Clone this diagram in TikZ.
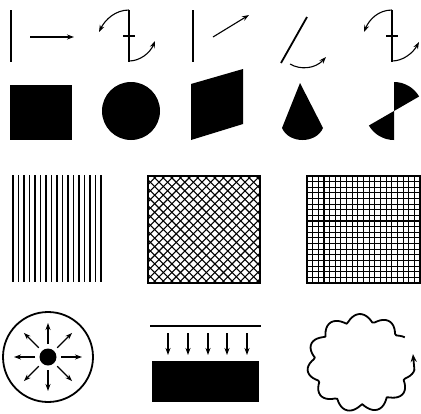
\documentclass[tikz,border=0pt]{standalone}
\usetikzlibrary{arrows.meta,calc}

\begin{document}
\begin{tikzpicture}[x=1pt, y=-1pt,
    bar/.style={line width=1.8pt},
    vec/.style={line width=1.1pt, -{Stealth[length=7pt, width=5pt]}},
    tick/.style={line width=1.1pt},
    frame/.style={line width=1.8pt},
    hatch/.style={line width=1.1pt},
  ]
  \useasboundingbox (0,0) rectangle (421,413);

  % row 1: bars, ticks and turning arrows
  \coordinate (b1) at (11,10);
  \coordinate (b2) at (129,10);
  \coordinate (b3) at (193,10);
  \coordinate (b5) at (392,10);
  \draw[bar] (b1) -- ++(0,52);
  \draw[vec] (30,37) -- (74,37);

  \draw[bar] (b2) -- ++(0,52);
  \draw[tick] (123,36) -- (135,36);
  \draw[vec] (b2) .. controls (115,10) and (105,20) .. (99,32);
  \draw[vec] (129,61) .. controls (140,61) and (150,53) .. (155,41);

  \draw[bar] (b3) -- ++(0,52);
  \draw[vec] (213,37) -- (249,15);

  \draw[bar] (281,63) -- (307,17);
  \draw[vec] (290,64) .. controls (300,70) and (315,69) .. (326,57);

  \draw[bar] (b5) -- ++(0,52);
  \draw[tick] (386,36) -- (398,36);
  \draw[vec] (b5) .. controls (378,10) and (369,20) .. (364,32);
  \draw[vec] (392,61) .. controls (403,61) and (413,53) .. (419,42);

  % row 2: solid shapes
  \fill (10,85) rectangle (72,140);
  \fill (131,111) circle[radius=29];
  \fill (191,84) -- (243,69) -- (243,124) -- (191,140) -- cycle;
  \fill (300,83) -- (282,128) .. controls (289,144) and (316,144) .. (323,128) -- cycle;
  \coordinate (fan) at (394,111);
  \fill (fan) -- ++(-90:29) arc[start angle=-90, end angle=-30, radius=29] -- cycle;
  \fill (fan) -- ++(90:29) arc[start angle=90, end angle=150, radius=29] -- cycle;

  % row 3: line set, cross hatch and grid
  \foreach \i in {0,...,16}
    \draw[line width=1.3pt] (13+\i*5.5,175) -- (13+\i*5.5,282);

  \begin{scope}
    \clip (148,176) rectangle (260,283);
    \foreach \i in {0,...,26} {
      \draw[hatch] (41+\i*8.6,176) -- ++(107,107);
      \draw[hatch] (148+\i*8.6,176) -- ++(-107,107);
    }
  \end{scope}
  \draw[frame] (148,176) rectangle (260,283);

  \foreach \i in {1,...,19}
    \draw[hatch] (307+\i*5.65,176) -- (307+\i*5.65,283);
  \foreach \j in {1,...,18}
    \draw[hatch] (307,176+\j*5.63) -- (420,176+\j*5.63);
  \draw[frame] (307,176) rectangle (420,283);

  % row 4: source in a ring, falling flux, closed loop
  \coordinate (src) at (48,357);
  \draw[frame] (src) circle[radius=45];
  \fill (src) circle[radius=8.5];
  \foreach \a in {0,45,...,315}
    \draw[vec] ($(src)+(\a:13)$) -- ($(src)+(\a:34)$);

  \draw[frame] (150,326) -- (261,326);
  \foreach \x in {168,188,208,227,247}
    \draw[vec] (\x,333) -- (\x,355);
  \fill (152,361) rectangle (259,402);

  % the loop is left open at the upper right; its last bit carries the tip
  \coordinate (loopend) at (414.4,369.8);
  \coordinate (looptip) at (413,354);
  \draw[frame, line join=round]
    plot[domain=33:352, samples=120]
      ({361+(46+8*abs(sin(5.5*\x-52.5)))*cos(\x)},
       {363-(41+8*abs(sin(5.5*\x-52.5)))*sin(\x)});
  \draw[frame, -{Stealth[length=8pt, width=6pt]}] (loopend) -- (looptip);
\end{tikzpicture}
\end{document}
